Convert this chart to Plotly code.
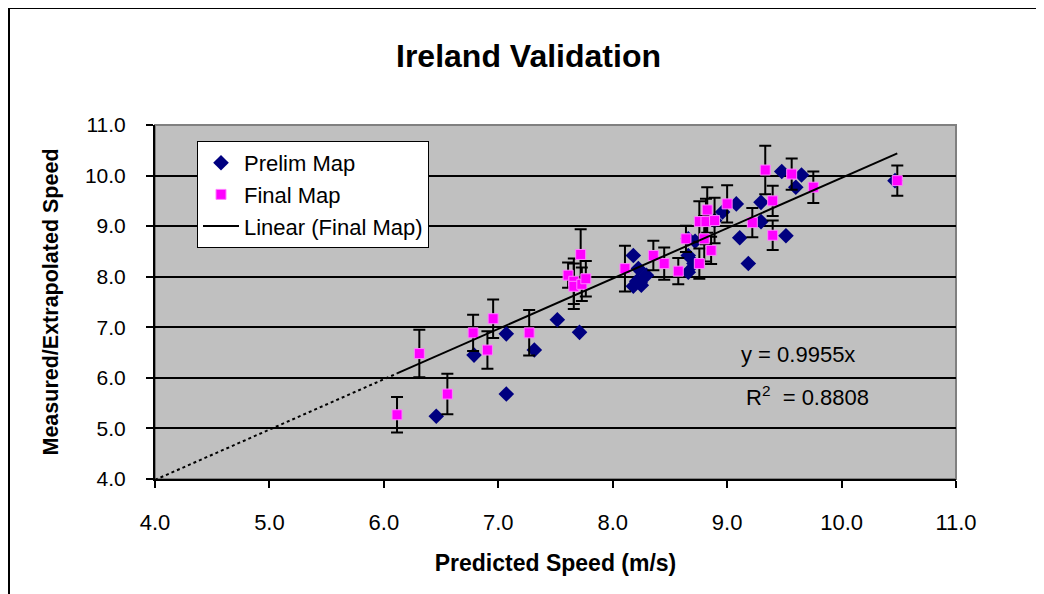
import plotly.graph_objects as go

# ---- data ----
final_x = [6.115, 6.31, 6.555, 6.78, 6.905, 6.955, 7.27, 7.61, 7.66, 7.66, 7.73, 7.765, 7.72,
           8.107, 8.355, 8.45, 8.573, 8.64, 8.757, 8.757, 8.815, 8.826, 8.80, 8.86, 8.89, 9.0,
           9.22, 9.333, 9.398, 9.398, 9.564, 9.753, 10.487]
final_y = [5.27, 6.48, 5.68, 6.89, 6.55, 7.17, 6.89, 8.03, 7.91, 7.81, 7.85, 7.96, 8.44,
           8.16, 8.42, 8.26, 8.11, 8.75, 8.26, 9.09, 9.09, 9.32, 8.75, 8.52, 9.11, 9.44,
           9.07, 10.11, 9.50, 8.82, 10.03, 9.77, 9.90]
final_err = [0.35, 0.47, 0.40, 0.36, 0.37, 0.38, 0.45, 0.25, 0.45, 0.45, 0.33, 0.35, 0.50,
             0.45, 0.29, 0.32, 0.26, 0.26, 0.30, 0.40, 0.45, 0.45, 0.45, 0.27, 0.45, 0.37,
             0.29, 0.48, 0.30, 0.29, 0.31, 0.31, 0.30]

prelim_x = [6.458, 6.788, 7.07, 7.07, 7.315, 7.516, 7.71, 8.18, 8.224, 8.18, 8.21, 8.25, 8.295,
            8.24, 8.66, 8.72, 8.66, 8.71, 8.66, 8.96, 9.08, 8.89, 9.11, 9.185, 9.296, 9.296,
            9.477, 9.65, 9.60, 9.514, 10.467]
prelim_y = [5.24, 6.45, 5.68, 6.87, 6.55, 7.15, 6.90, 8.42, 8.16, 7.81, 7.91, 7.83, 8.03,
            7.88, 8.75, 8.70, 8.42, 8.26, 8.09, 9.28, 9.44, 9.11, 8.77, 8.26, 9.47, 9.09,
            10.08, 10.01, 9.77, 8.81, 9.90]

slope = 0.9955
r2 = 0.8808
axis_min, axis_max = 4.0, 11.0
tick_vals = [4, 5, 6, 7, 8, 9, 10, 11]

# figure geometry (page body adds an 8px offset)
OFF = 8
W, H = 1044 - OFF, 594 - OFF
L, R, T, B = 155 - OFF, 88, 125 - OFF, 115
pw, ph = W - L - R, H - T - B

def px(xp):  # reference-image pixel -> paper
    return (xp - OFF - L) / pw

def py(yp):
    return (H - B - (yp - OFF)) / ph

FONT = "Liberation Sans, Arial, sans-serif"

fig = go.Figure()

xmin, xmax = min(final_x), max(final_x)
fig.add_trace(go.Scatter(
    x=[axis_min, xmin], y=[slope * axis_min, slope * xmin], mode="lines",
    line=dict(color="black", width=2, dash="dot"), showlegend=False, hoverinfo="skip"))

fig.add_trace(go.Scatter(
    x=prelim_x, y=prelim_y, mode="markers", name="Prelim Map",
    marker=dict(symbol="diamond", size=12, color="#000080", line=dict(width=0))))

fig.add_trace(go.Scatter(
    x=final_x, y=final_y, mode="markers", name="Final Map",
    marker=dict(symbol="square", size=10, color="#FF00FF", line=dict(color="#FF80FF", width=1)),
    error_y=dict(type="data", array=final_err, visible=True, color="black", thickness=2, width=6)))

fig.add_trace(go.Scatter(
    x=[xmin, xmax], y=[slope * xmin, slope * xmax], mode="lines", name="Linear (Final Map)",
    line=dict(color="black", width=2)))

# outer chart frame
fig.add_shape(type="rect", xref="paper", yref="paper",
              x0=px(9), x1=px(1070), y0=py(620), y1=py(8),
              line=dict(color="black", width=2), layer="below")
# plot-area border (gray)
fig.add_shape(type="rect", xref="paper", yref="paper",
              x0=0, x1=1, y0=0, y1=1,
              line=dict(color="#808080", width=2), layer="below")

fig.add_annotation(x=9.62, y=6.46, xref="x", yref="y", text="y = 0.9955x", showarrow=False,
                   font=dict(family=FONT, size=22, color="black"))
fig.add_annotation(x=9.70, y=5.65, xref="x", yref="y", text="R<sup>2</sup>  = 0.8808", showarrow=False,
                   font=dict(family=FONT, size=22, color="black"))

fig.update_layout(
    width=W, height=H, autosize=False,
    margin=dict(l=L, r=R, t=T, b=B),
    paper_bgcolor="white", plot_bgcolor="#C0C0C0",
    font=dict(family=FONT, size=21, color="black"),
    title=dict(text="<b>Ireland Validation</b>", x=(528.5 - OFF) / W, xanchor="center",
               y=1 - (56 - OFF) / H, yanchor="middle", font=dict(family=FONT, size=32, color="black")),
    showlegend=True,
    legend=dict(x=px(197), y=py(141), xanchor="left", yanchor="top",
                bgcolor="white", bordercolor="black", borderwidth=1,
                font=dict(family=FONT, size=22, color="black"),
                tracegroupgap=0, itemwidth=36),
    xaxis=dict(range=[axis_min, axis_max], tickvals=tick_vals, tickformat=".1f",
               showgrid=False, zeroline=False, showline=True, linecolor="black", linewidth=2,
               ticks="outside", ticklen=7, tickwidth=1.5, tickcolor="black",
               ticklabelstandoff=16, tickfont=dict(size=22),
               title=dict(text="<b>Predicted Speed (m/s)</b>", standoff=20,
                          font=dict(family=FONT, size=23))),
    yaxis=dict(range=[axis_min, axis_max], tickvals=tick_vals, tickformat=".1f",
               showgrid=True, gridcolor="black", gridwidth=1.5, zeroline=False,
               showline=True, linecolor="black", linewidth=2,
               ticks="outside", ticklen=7, tickwidth=1.5, tickcolor="black",
               ticklabelstandoff=16, tickfont=dict(size=21),
               title=dict(text="<b>Measured/Extrapolated Speed</b>", standoff=20,
                          font=dict(family=FONT, size=21.5))),
)

fig.write_html("out.html")
